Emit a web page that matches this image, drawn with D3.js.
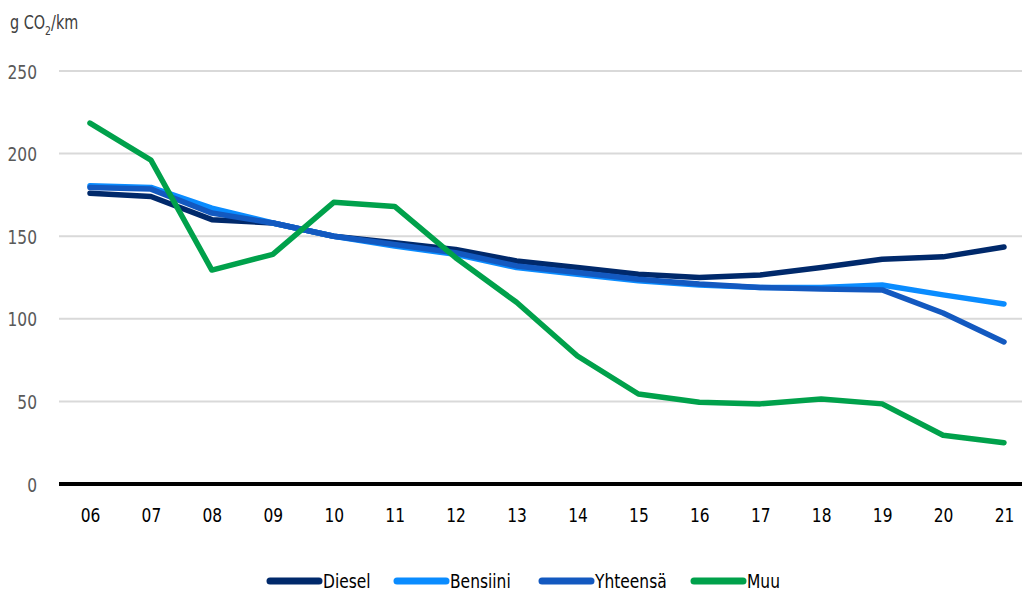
<!DOCTYPE html>
<html><head><meta charset="utf-8">
<script src="https://cdn.jsdelivr.net/npm/d3@7"></script>
<style>
html,body{margin:0;padding:0;background:#fff;}
svg text{font-family:"Liberation Sans Narrow","DejaVu Sans Condensed","Roboto Condensed",sans-serif;}
</style></head>
<body>
<svg id="c" width="1022" height="592"></svg>
<script>
const years = ["06","07","08","09","10","11","12","13","14","15","16","17","18","19","20","21"];
const diesel   = [176,174,160,158,150,146,142,135,131,127,125,126.5,131,136,137.5,143.5];
const bensiini = [180.5,179.5,167,158,150,144,139,131,127,123,120.5,119,119,120.5,114.5,109];
const yhteensa = [179.5,178.5,164,158,150,145,140,132,128,124,121,119,118,117.5,103.5,86];
const muu      = [218.5,196,129.5,139,170.5,168,137,110,77.5,54.5,49.5,48.5,51.5,48.5,29.5,25];
const yTicks = [0,50,100,150,200,250];
const seriesNames = ["Diesel","Bensiini","Yhteensä","Muu"];
const seriesColors = ["#00296b","#0a8cff","#1359c0","#00a14b"];
const SX = 0.86;

const svg = d3.select("#c");
const x = d3.scalePoint().domain(years).range([90,1004]);
const y = d3.scaleLinear().domain([0,250]).range([484,71]);

// gridlines
svg.append("g").selectAll("line").data(yTicks.filter(d=>d>0)).join("line")
  .attr("x1",59).attr("x2",1022).attr("y1",d=>y(d)).attr("y2",d=>y(d))
  .attr("stroke","#d9d9d9").attr("stroke-width",2);

// y axis labels
const yAxis = d3.axisLeft(y).tickValues(yTicks).tickSize(0).tickPadding(0);
const ya = svg.append("g").attr("transform","translate(37,0)").call(yAxis);
ya.select(".domain").remove();
ya.selectAll("text").attr("fill","#595959").style("font-size","20px").attr("dy","0.35em")
  .attr("transform",`scale(${SX},1)`);

// x axis
const xAxis = d3.axisBottom(x).tickSize(0).tickPadding(0);
const xa = svg.append("g").attr("transform","translate(0,484)").call(xAxis);
xa.select(".domain").remove();
xa.selectAll("text").attr("fill","#000").style("font-size","20px").attr("y",38).attr("dy",0)
  .attr("transform",`scale(${SX},1)`);
svg.append("line").attr("x1",59).attr("x2",1022).attr("y1",y(0)).attr("y2",y(0))
  .attr("stroke","#000").attr("stroke-width",4);

// title
const tg = svg.append("g").attr("transform",`translate(10,29) scale(0.8,1)`);
const t = tg.append("text").attr("x",0).attr("y",0).attr("fill","#404040").style("font-size","20px");
t.append("tspan").text("g CO");
t.append("tspan").text("2").style("font-size","13px").attr("dy",6);
t.append("tspan").text("/km").attr("dy",-6);

// lines
const allSeries = [diesel,bensiini,yhteensa,muu];
const line = d3.line().x((d,i)=>x(years[i])).y(d=>y(d));
svg.append("g").selectAll("path").data(allSeries).join("path")
  .attr("d",line).attr("fill","none")
  .attr("stroke",(d,i)=>seriesColors[i]).attr("stroke-width",5.5)
  .attr("stroke-linejoin","round").attr("stroke-linecap","round");

// legend
const legX = [267,394,539,691];
const lg = svg.append("g");
seriesNames.forEach((n,i)=>{
  lg.append("line").attr("x1",legX[i]+3).attr("x2",legX[i]+52).attr("y1",581).attr("y2",581)
    .attr("stroke",seriesColors[i]).attr("stroke-width",7).attr("stroke-linecap","round");
  lg.append("g").attr("transform",`translate(${legX[i]+56},588) scale(${SX},1)`)
    .append("text").attr("x",0).attr("y",0).attr("fill","#000").style("font-size","20px").text(n);
});
</script>
</body></html>
